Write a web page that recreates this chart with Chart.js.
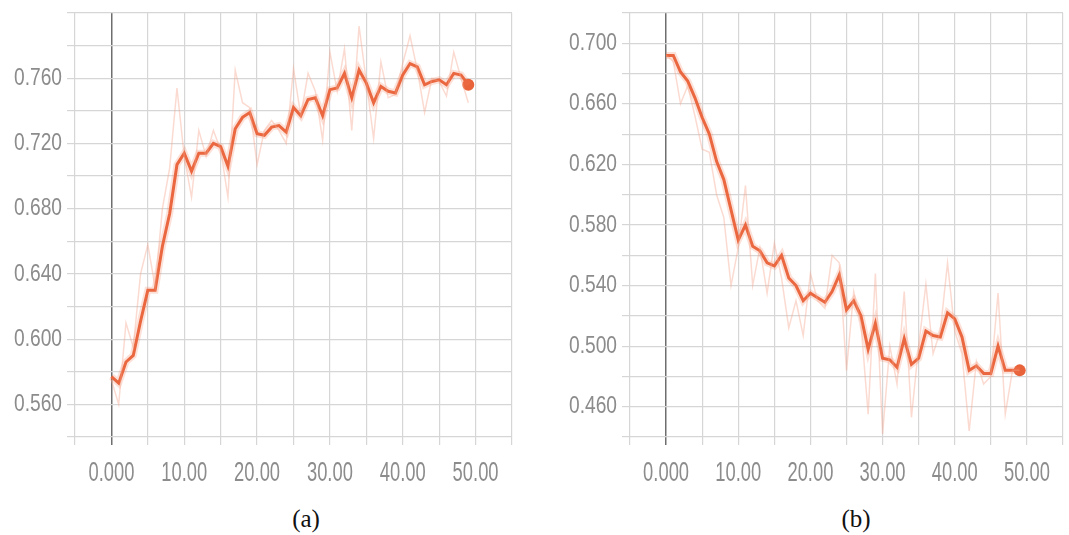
<!DOCTYPE html>
<html>
<head>
<meta charset="utf-8">
<script src="https://cdn.jsdelivr.net/npm/chart.js@4.4.1/dist/chart.umd.min.js"></script>
<style>
  html, body { margin: 0; padding: 0; background: #fff; }
  body { width: 1069px; height: 535px; position: relative; overflow: hidden; }
  .box { position: absolute; top: 0; height: 500px; }
  .cap { position: absolute; top: 505px; font-family: "Liberation Serif", "Times New Roman", serif; font-size: 25px; color: #111; transform: translateX(-50%); }
</style>
</head>
<body>
<div class="box" style="left:0;width:530px;"><canvas id="cA"></canvas></div>
<div class="box" style="left:555px;width:514px;"><canvas id="cB"></canvas></div>
<div class="cap" style="left:306px;">(a)</div>
<div class="cap" style="left:856px;">(b)</div>
<script>
// ---- data ----
const epochs = [0,1,2,3,4,5,6,7,8,9,10,11,12,13,14,15,16,17,18,19,20,21,22,23,24,25,26,27,28,29,30,31,32,33,34,35,36,37,38,39,40,41,42,43,44,45,46,47,48,49];

// (a) smoothed and raw curves
const smoothA = [0.577,0.573,0.586,0.590,0.611,0.630,0.630,0.657,0.677,0.707,0.714,0.703,0.714,0.714,0.720,0.718,0.706,0.729,0.736,0.739,0.726,0.725,0.730,0.731,0.727,0.742,0.737,0.747,0.748,0.737,0.753,0.754,0.763,0.748,0.765,0.757,0.745,0.755,0.752,0.751,0.762,0.769,0.767,0.756,0.758,0.759,0.756,0.763,0.762,0.756];
const rawA = [0.575,0.560,0.610,0.595,0.640,0.658,0.632,0.680,0.705,0.754,0.712,0.687,0.728,0.712,0.728,0.716,0.687,0.765,0.745,0.742,0.707,0.728,0.734,0.728,0.720,0.766,0.737,0.763,0.752,0.722,0.776,0.752,0.778,0.728,0.792,0.758,0.723,0.770,0.748,0.750,0.769,0.786,0.765,0.739,0.760,0.758,0.749,0.776,0.760,0.745];

// (b) smoothed and raw curves
const smoothB = [0.692,0.692,0.681,0.675,0.664,0.651,0.640,0.622,0.610,0.590,0.570,0.580,0.566,0.563,0.555,0.553,0.560,0.545,0.540,0.530,0.535,0.532,0.529,0.536,0.547,0.524,0.530,0.520,0.498,0.515,0.492,0.491,0.486,0.505,0.488,0.492,0.510,0.507,0.506,0.522,0.518,0.506,0.484,0.487,0.482,0.482,0.500,0.484,0.484,0.484];
const rawB = [0.692,0.688,0.660,0.672,0.652,0.630,0.628,0.600,0.585,0.540,0.565,0.606,0.540,0.565,0.535,0.568,0.545,0.512,0.530,0.507,0.548,0.530,0.525,0.560,0.555,0.484,0.536,0.515,0.455,0.548,0.442,0.500,0.475,0.536,0.453,0.500,0.541,0.495,0.510,0.555,0.510,0.495,0.444,0.490,0.475,0.480,0.535,0.455,0.484,0.484];

// tick labels
const xTickValues = [0, 10, 20, 30, 40, 50];
const xTickLabels = ['0.000','10.00','20.00','30.00','40.00','50.00'];
const yTickLabelsA = ['0.560','0.600','0.640','0.680','0.720','0.760'];
const yTickLabelsB = ['0.460','0.500','0.540','0.580','0.620','0.660','0.700'];

// ---- helpers ----
const pts = (ys) => ys.map((y, i) => ({ x: epochs[i], y: y }));
const LINE = '#e8633a';
const LABEL_COLOR = '#8c8c8c';
const LABEL_FAMILY = '"Liberation Sans", Arial, sans-serif';

// draws narrow, tall tick labels at the positions given by the chart's own scales
const narrowTicks = {
  id: 'narrowTicks',
  afterDraw(chart, args, opts) {
    const ctx = chart.ctx;
    const xs = chart.scales.x, ys = chart.scales.y;
    const area = chart.chartArea;
    ctx.save();
    ctx.fillStyle = LABEL_COLOR;
    ctx.textBaseline = 'middle';
    // y labels
    ctx.font = '24px ' + LABEL_FAMILY;
    ctx.textAlign = 'right';
    opts.yLabels.forEach((s) => {
      const py = ys.getPixelForValue(parseFloat(s));
      ctx.save();
      ctx.translate(area.left - 13, py);
      ctx.scale(0.8, 1);
      ctx.fillText(s, 0, 0);
      ctx.restore();
    });
    // x labels
    ctx.font = '27px ' + LABEL_FAMILY;
    ctx.textAlign = 'center';
    xTickValues.forEach((v, i) => {
      const px = xs.getPixelForValue(v);
      ctx.save();
      ctx.translate(px, area.bottom + 37);
      ctx.scale(0.68, 1);
      ctx.fillText(xTickLabels[i], 0, 0);
      ctx.restore();
    });
    ctx.restore();
  }
};

function makeChart(id, smooth, raw, yMin, yMax, yLabels, padRight) {
  const last = smooth.length - 1;
  return new Chart(document.getElementById(id), {
    type: 'line',
    data: {
      datasets: [
        { data: pts(raw), borderColor: 'rgba(245,165,140,0.40)', borderWidth: 1.5, pointRadius: 0, tension: 0 },
        { data: pts(smooth), borderColor: 'rgba(240,120,80,0.22)', borderWidth: 7, pointRadius: 0, tension: 0 },
        { data: pts(smooth), borderColor: LINE, backgroundColor: LINE, borderWidth: 3, tension: 0,
          pointRadius: (c) => c.dataIndex === last ? 6 : 0, pointHoverRadius: 0, pointBorderWidth: 0 }
      ]
    },
    plugins: [narrowTicks],
    options: {
      responsive: true,
      maintainAspectRatio: false,
      animation: false,
      events: [],
      layout: { padding: { top: 13, right: padRight, left: 0, bottom: 0 } },
      plugins: { legend: { display: false }, tooltip: { enabled: false }, narrowTicks: { yLabels: yLabels } },
      scales: {
        x: {
          type: 'linear', min: -5, max: 55,
          afterFit: (s) => { s.height = 63; },
          border: { display: false },
          grid: {
            color: (c) => (c.tick && c.tick.value === 0) ? '#6e6e6e' : '#d6d6d6',
            lineWidth: (c) => (c.tick && c.tick.value === 0) ? 1.5 : 1.2,
            tickLength: 8
          },
          ticks: { stepSize: 5, autoSkip: false, maxRotation: 0, callback: () => '' }
        },
        y: {
          min: yMin, max: yMax,
          afterFit: (s) => { s.width = 75; },
          border: { display: false },
          grid: { color: '#d6d6d6', lineWidth: 1.2, tickLength: 8 },
          ticks: { stepSize: 0.02, autoSkip: false, callback: () => '' }
        }
      }
    }
  });
}

makeChart('cA', smoothA, rawA, 0.54, 0.80, yTickLabelsA, 18);
makeChart('cB', smoothB, rawB, 0.44, 0.72, yTickLabelsB, 2);
</script>
</body>
</html>
